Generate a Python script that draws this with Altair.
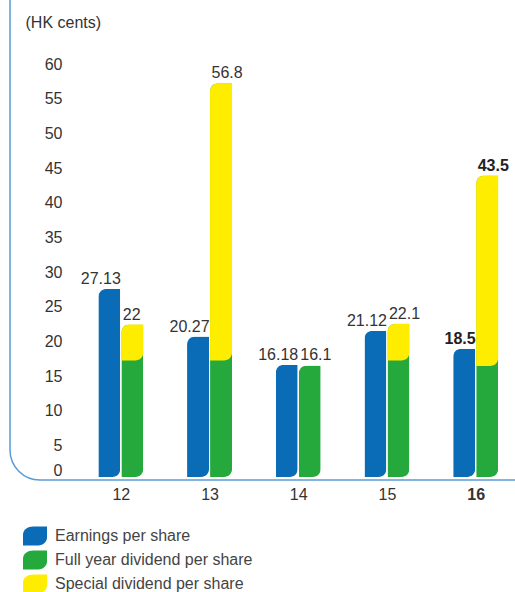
import altair as alt
import pandas as pd

# Per-share figures, HK cents
years = [12, 13, 14, 15, 16]
earnings_per_share = [27.13, 20.27, 16.18, 21.12, 18.5]
full_year_dividend = [16.8, 16.8, 16.1, 16.8, 16.0]
total_dividend = [22, 56.8, 16.1, 22.1, 43.5]

series_names = ["Earnings per share", "Full year dividend per share", "Special dividend per share"]
series_colors = ["#0a6cb7", "#26a93c", "#ffed00"]

df = pd.DataFrame({
    "year": years,
    "eps": earnings_per_share,
    "full": full_year_dividend,
    "total": total_dividend,
})

FONT = "Liberation Sans"
TEXT = "#333333"
W, H = 505, 477
BAR_W = 22
R = 8

x_scale = alt.Scale(domain=[10.807, 16.387], nice=False, zero=False)
y_scale = alt.Scale(domain=[0, 68.83], nice=False)

leaf = "M-1,0.8 L-1,-0.1 C-1,-0.55 -0.6,-0.8 -0.15,-0.8 L1,-0.8 L1,0.1 C1,0.55 0.6,0.8 0.15,0.8 Z"

color = alt.Color(
    "series:N",
    scale=alt.Scale(domain=series_names, range=series_colors),
    legend=alt.Legend(
        title=None, orient="none", legendX=13, legendY=524,
        symbolType=leaf, symbolSize=576, symbolStrokeWidth=0,
        labelFont=FONT, labelFontSize=16, labelColor="#444444", labelLimit=400,
        labelOffset=8, rowPadding=2, padding=0,
    ),
)

x_axis = alt.Axis(
    title=None, values=years, format="d", grid=False, ticks=False, domain=False,
    labelFont=FONT, labelFontSize=16, labelColor=TEXT, labelPadding=9,
    labelFontWeight=alt.condition("datum.value == 16", alt.value("bold"), alt.value("normal")),
)

y_axis = alt.Axis(
    title="(HK cents)", titleAngle=0, titleAlign="left", titleBaseline="middle",
    titleX=-40, titleY=22, titleFont=FONT, titleFontSize=16, titleFontWeight="normal",
    titleColor=TEXT,
    values=list(range(0, 61, 5)), tickCount=13, grid=False, ticks=False, domain=False,
    labelOverlap=False, labelBound=False, labelFlush=False,
    offset=-55, labelPadding=3, labelFont=FONT, labelFontSize=16, labelColor=TEXT,
    labelOffset={"condition": {"test": "datum.value === 0", "value": -7}, "value": 3},
)


def xq():
    return alt.X("year:Q", scale=x_scale, axis=x_axis)


def yq(field):
    return alt.Y(f"{field}:Q", scale=y_scale, axis=y_axis)


base = alt.Chart(df)

# Axis frame with a rounded lower-left corner
frame = alt.Chart(alt.Data(values=[{}])).mark_rect(
    filled=False, stroke="#5b9bd5", strokeWidth=1.5, cornerRadiusBottomLeft=30
).encode(
    x=alt.value(0), x2=alt.value(W + 40),
    y=alt.value(-40), y2=alt.value(H + 3),
)

eps_bars = base.transform_calculate(series="'Earnings per share'").mark_bar(
    width=BAR_W, xOffset=-11.5, cornerRadiusTopLeft=R, cornerRadiusBottomRight=R
).encode(x=xq(), y=yq("eps"), color=color)

# Green column runs under the special-dividend cap so its rounded corner shows green
full_bars = base.transform_calculate(series="'Full year dividend per share'").mark_bar(
    width=BAR_W, xOffset=11.5, cornerRadiusTopLeft=R, cornerRadiusBottomRight=R
).encode(x=xq(), y=yq("total"), color=color)

special_bars = base.transform_filter("datum.total > datum.full").transform_calculate(
    series="'Special dividend per share'"
).mark_bar(
    width=BAR_W, xOffset=11.5, cornerRadiusTopLeft=R, cornerRadiusBottomRight=R
).encode(x=xq(), y=yq("full"), y2="total:Q", color=color)


def value_labels(field, align, dx, latest):
    src = base.transform_filter("datum.year == 16" if latest else "datum.year != 16")
    return src.mark_text(
        align=align, baseline="alphabetic", dx=dx, dy=-5, font=FONT, fontSize=16,
        fontWeight="bold" if latest else "normal", color="#222222" if latest else TEXT,
    ).encode(x=xq(), y=yq(field), text=alt.Text(f"{field}:Q"))


labels = [
    value_labels("eps", "right", 0, False),
    value_labels("eps", "right", 0, True),
    value_labels("total", "left", 2, False),
    value_labels("total", "left", 2, True),
]

chart = alt.layer(frame, eps_bars, full_bars, special_bars, *labels).properties(
    width=W, height=H,
    autosize=alt.AutoSizeParams(type="none"),
    padding={"left": 10, "top": 0, "right": 0, "bottom": 115},
).configure_view(stroke=None)

chart.save("out.html", embed_options={"renderer": "svg", "actions": False})
